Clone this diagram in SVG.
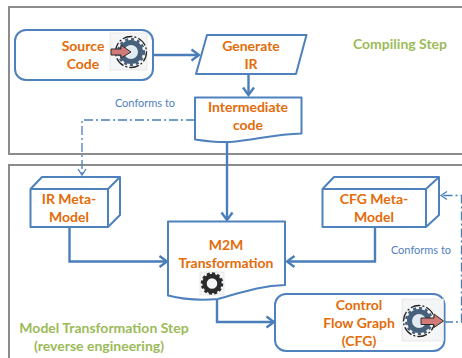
<svg xmlns="http://www.w3.org/2000/svg" width="462" height="358" viewBox="0 0 462 358">
<style>
.frame{fill:#fff;stroke:#8c8c8c;stroke-width:2}
.box{fill:#fff;stroke:#4f81bd;stroke-width:2;stroke-linejoin:round}
.conn{fill:none;stroke:#4a7ebb;stroke-width:2.4}
.dash{fill:none;stroke:#4a7ebb;stroke-width:1.3;stroke-dasharray:9 3 2 3}
.ibox{fill:#f4f5f6;stroke:#e2e2e2;stroke-width:.7}
.arr{fill:#d27a7a;stroke:#2d2d2d;stroke-width:1}
text{font-family:Lato,"Liberation Sans",sans-serif;text-anchor:middle}
.o{fill:#e36c0a;font-size:14px;font-weight:700}
.g{fill:#9bbb59;font-size:14px;font-weight:700}
.b{fill:#4f81bd;font-size:11px;font-weight:400}
</style>
<defs>
<marker id="a" markerUnits="userSpaceOnUse" markerWidth="12" markerHeight="14" refX="10" refY="7" orient="auto"><path d="M2.500,1.500L10,7L2.500,12.500" fill="none" stroke="#4a7ebb" stroke-width="2.400"/></marker>
<marker id="d" markerUnits="userSpaceOnUse" markerWidth="10" markerHeight="10" refX="8" refY="5" orient="auto"><path d="M2,1L8,5L2,9" fill="none" stroke="#4a7ebb" stroke-width="1.300"/></marker>
<g id="gearicon">
<circle r="15.500" fill="none" stroke="#222" stroke-width="1.300" stroke-dasharray="10 2 2 2"/>
<circle r="9.500" fill="#e3ebf2" stroke="#47607c" stroke-width="5"/>
<circle r="12.800" fill="none" stroke="#47607c" stroke-width="2.500" stroke-dasharray="3 3"/>
</g>
</defs>
<rect id="step1" class="frame" x="9" y="7" width="470" height="147"/>
<rect id="step2" class="frame" x="9" y="165" width="470" height="210"/>
<g id="connectors">
<path class="conn" d="M153,55H199" marker-end="url(#a)"/>
<path class="conn" d="M248.500,74V95" marker-end="url(#a)"/>
<path class="conn" d="M227,142V220" marker-end="url(#a)"/>
<path class="conn" d="M69.500,227V261.500H167" marker-end="url(#a)"/>
<path class="conn" d="M375,227V261.500H287" marker-end="url(#a)"/>
<path class="conn" d="M217,299V322H274" marker-end="url(#a)"/>
<path class="dash" d="M195,120H82V175" marker-end="url(#d)"/>
<path class="dash" d="M444,322H461.500V195.500H441" marker-end="url(#d)"/>
</g>
<g id="source">
<rect class="box" x="15" y="30" width="138" height="50" rx="11"/>
<text class="o" x="83" y="51">Source</text>
<text class="o" x="83" y="69">Code</text>
<rect class="ibox" x="110" y="33" width="37" height="37"/>
<use href="#gearicon" x="131" y="52"/>
<path class="arr" d="M111,49H121V45L131,52L121,58V55H111Z"/>
</g>
<g id="generate">
<path class="box" d="M196,74L207,35H306.500L296,74Z"/>
<text class="o" x="251" y="51">Generate</text>
<text class="o" x="251" y="69">IR</text>
</g>
<g id="intermediate">
<path class="box" d="M195,97.500H301.500V133.500C275,134 255,140 230,142C215,142.500 205,141 195,139.500Z"/>
<text class="o" x="248" y="112">Intermediate</text>
<text class="o" x="248" y="130">code</text>
</g>
<g id="irmeta">
<path class="box" d="M30.500,189H108V227H30.500ZM30.500,189L42,177H120L108,189M120,177V215L108,227"/>
<text class="o" x="69" y="204">IR Meta-</text>
<text class="o" x="69" y="222">Model</text>
</g>
<g id="cfgmeta">
<path class="box" d="M322.500,189H426V227H322.500ZM322.500,189L334,177H439L426,189M439,177V215L426,227"/>
<text class="o" x="374" y="204">CFG Meta-</text>
<text class="o" x="374" y="222">Model</text>
</g>
<g id="m2m">
<path class="box" d="M168,221.500H285V285C260,285.500 240,293 218,299C200,300.500 185,300 168,295.500Z"/>
<text class="o" x="226" y="250">M2M</text>
<text class="o" x="226" y="268">Transformation</text>
<rect class="ibox" x="200" y="272" width="24" height="23"/>
<circle cx="212" cy="283.500" r="7.500" fill="none" stroke="#2b2b2b" stroke-width="4.500"/>
<circle cx="212" cy="283.500" r="10" fill="none" stroke="#2b2b2b" stroke-width="2.500" stroke-dasharray="3 2.200"/>
</g>
<g id="cfg">
<rect class="box" x="275" y="294" width="169.500" height="57" rx="11"/>
<text class="o" x="359" y="310">Control</text>
<text class="o" x="359" y="328">Flow Graph</text>
<text class="o" x="359" y="346">(CFG)</text>
<rect class="ibox" x="402" y="299" width="41.500" height="42"/>
<use href="#gearicon" x="419" y="321"/>
<path class="arr" d="M421,318H434V314L443.500,321L434,327.500V324.500H421Z"/>
</g>
<text class="b" x="145" y="107">Conforms to</text>
<text class="b" x="421" y="254">Conforms to</text>
<text class="g" x="400" y="49">Compiling Step</text>
<text class="g" x="104" y="333">Model Transformation  Step</text>
<text class="g" x="99" y="351">(reverse engineering)</text>
</svg>
